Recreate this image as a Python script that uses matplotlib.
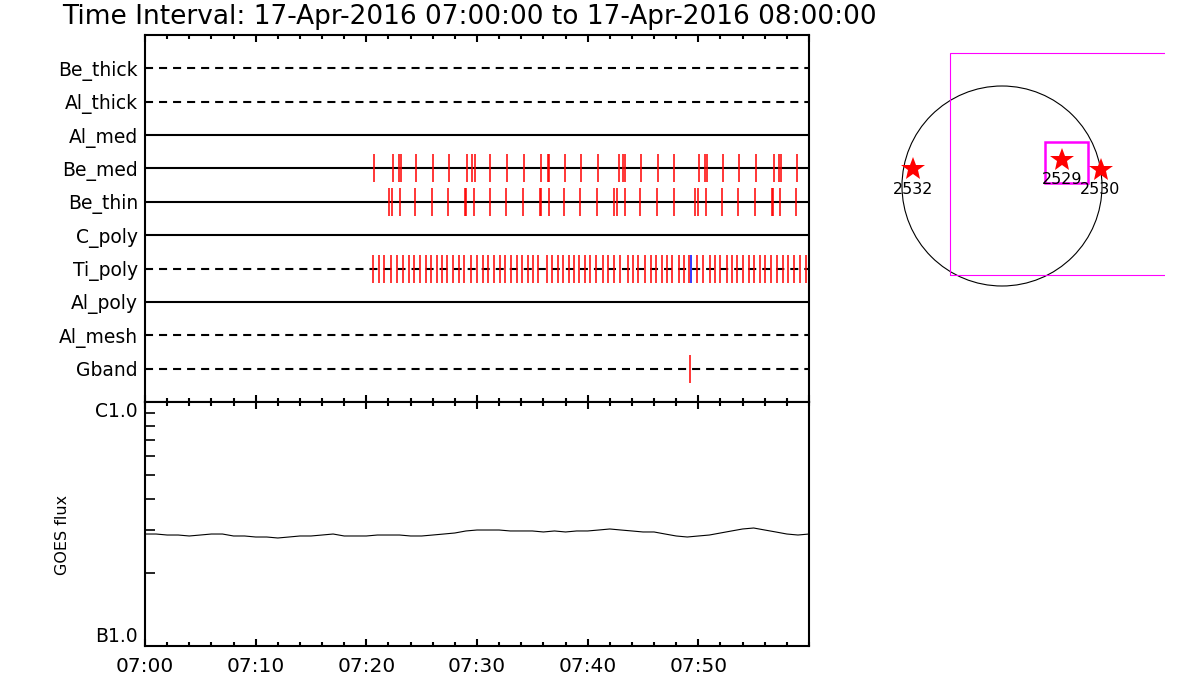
import numpy as np
import matplotlib
matplotlib.use("Agg")
import matplotlib.pyplot as plt
from matplotlib.patches import Circle, Rectangle

plt.rcParams['font.family'] = ['DejaVu Sans']
plt.rcParams['lines.scale_dashes'] = False

# detector rows, top to bottom
rows = ['Be_thick', 'Al_thick', 'Al_med', 'Be_med', 'Be_thin',
        'C_poly', 'Ti_poly', 'Al_poly', 'Al_mesh', 'Gband']
dashed = [True, True, False, False, False, False, True, False, True, True]

# event times, minutes after 07:00
be_med_t = [20.72, 22.44, 22.92, 23.16, 24.51, 26.05, 27.50, 29.12, 29.57, 29.85,
            31.20, 32.74, 34.27, 35.81, 36.39, 36.53, 37.98, 39.42, 40.96, 42.80,
            43.22, 43.40, 44.85, 46.38, 47.83, 50.09, 50.63, 50.81, 52.25, 53.70,
            55.24, 56.86, 57.31, 57.50, 58.94]
be_thin_t = [22.07, 22.35, 23.07, 24.42, 25.96, 27.41, 28.93, 29.05, 29.76, 31.20,
             32.65, 34.18, 35.70, 35.82, 36.48, 37.89, 39.33, 40.87, 42.41, 42.68,
             43.40, 44.75, 46.29, 47.83, 49.72, 50.00, 50.72, 52.16, 53.61, 55.15,
             56.66, 56.78, 57.41, 58.85]
ti_poly_t = [20.63, 21.17, 21.60, 22.26, 22.80, 23.34, 23.88, 24.33, 24.88, 25.42,
             25.82, 26.41, 26.86, 27.32, 27.86, 28.40, 28.85, 29.48, 30.03, 30.57,
             31.02, 31.56, 32.10, 32.56, 33.10, 33.64, 34.04, 34.63, 35.09, 35.54,
             36.30, 36.80, 37.29, 37.74, 38.34, 38.79, 39.24, 39.79, 40.24, 40.78,
             41.41, 41.86, 42.41, 42.95, 43.67, 44.12, 44.57, 45.21, 45.75, 46.20,
             46.74, 47.19, 47.65, 48.28, 48.73, 49.18, 49.91, 50.45, 51.08, 51.53,
             51.98, 52.62, 53.07, 53.52, 54.06, 54.60, 55.06, 55.60, 56.05, 56.59,
             57.14, 57.68, 58.13, 58.67, 59.21, 59.75]
ti_poly_blue_t = [49.33]
gband_t = [49.25]

# GOES flux (units of 1e-7 W/m^2), one reading per minute
goes_t = list(range(0, 61))
goes_flux = [2.877, 2.877, 2.850, 2.850, 2.824, 2.850, 2.877, 2.877, 2.824, 2.824,
             2.797, 2.797, 2.771, 2.797, 2.824, 2.824, 2.850, 2.877, 2.824, 2.824,
             2.824, 2.850, 2.850, 2.850, 2.824, 2.824, 2.850, 2.877, 2.905, 2.961,
             2.988, 2.988, 2.988, 2.961, 2.961, 2.961, 2.933, 2.961, 2.933, 2.961,
             2.961, 2.988, 3.017, 2.988, 2.961, 2.933, 2.933, 2.877, 2.824, 2.797,
             2.824, 2.850, 2.905, 2.961, 3.017, 3.045, 2.988, 2.933, 2.877, 2.850,
             2.877]

# active regions on the disk, arcsec
ar_num = ['2532', '2529', '2530']
ar_x = [-890, 600, 985]
ar_y = [170, 260, 160]

fig = plt.figure(figsize=(12, 7), dpi=100)
W, H = 1200.0, 700.0

def px_axes(x0, y0, x1, y1):
    return fig.add_axes([x0 / W, 1 - y1 / H, (x1 - x0) / W, (y1 - y0) / H])

# ---- detector panel
ax = px_axes(145, 35, 809, 402)
for i, (name, dsh) in enumerate(zip(rows, dashed)):
    yy = i + 1
    ln, = ax.plot([0, 60], [yy, yy], color='black', lw=1.5)
    if dsh:
        ln.set_dashes((5.8, 4.3))
marks = {'Be_med': be_med_t, 'Be_thin': be_thin_t, 'Ti_poly': ti_poly_t,
         'Gband': gband_t}
for name, tt in marks.items():
    yy = rows.index(name) + 1
    ax.vlines(tt, yy - 0.42, yy + 0.42, color='red', lw=1.1)
yy = rows.index('Ti_poly') + 1
ax.vlines(ti_poly_blue_t, yy - 0.42, yy + 0.42, color='blue', lw=1.1)

ax.set_xlim(0, 60)
ax.set_ylim(11, 0)
ax.set_yticks(range(1, 11))
ax.set_yticklabels(rows, fontsize=13.5)
ax.tick_params(axis='y', length=0, pad=5)
ax.set_xticks(range(0, 61, 10))
ax.set_xticks(range(0, 61, 2), minor=True)
ax.tick_params(axis='x', which='both', direction='in', top=True, bottom=True,
               labelbottom=False, width=1.5)
ax.tick_params(axis='x', which='major', length=5)
ax.tick_params(axis='x', which='minor', length=3)
for s in ax.spines.values():
    s.set_linewidth(1.5)

# ---- GOES panel
ax2 = px_axes(145, 402, 809, 646)
ax2.plot(goes_t, np.array(goes_flux) * 1e-7, color='black', lw=0.8)
ax2.set_yscale('log')
ax2.set_ylim(1e-7, 1e-6)
ax2.set_xlim(0, 60)
ax2.set_yticks([1e-7, 1e-6])
ax2.set_yticklabels(['B1.0', 'C1.0'], fontsize=13.5)
ax2.set_yticks([k * 1e-7 for k in range(2, 10)], minor=True)
ax2.yaxis.set_minor_formatter(plt.NullFormatter())
ax2.tick_params(axis='y', which='major', length=0, pad=5)
ax2.tick_params(axis='y', which='minor', direction='in', length=7, width=1.2,
                left=True, right=False)
lbls = ax2.get_yticklabels()
lbls[0].set_va('bottom')
lbls[1].set_va('top')
ax2.set_xticks(range(0, 51, 10))
ax2.set_xticklabels(['07:%02d' % m for m in range(0, 51, 10)], fontsize=14.5)
ax2.set_xticks(range(0, 61, 2), minor=True)
ax2.tick_params(axis='x', which='both', direction='in', top=True, bottom=True,
                width=1.5, pad=8)
ax2.tick_params(axis='x', which='major', length=5)
ax2.tick_params(axis='x', which='minor', length=3)
ax2.set_ylabel('GOES flux', fontsize=11.5)
ax2.yaxis.set_label_coords((70 - 145) / 664.0, (646 - 535) / 244.0)
for s in ax2.spines.values():
    s.set_linewidth(1.5)

# ---- solar disk panel (1 px ~ 10 arcsec, centre at 1002,186)
cx, cy = 1002.0, 186.0
ax3 = px_axes(850, 40, 1165, 300)
ax3.set_xlim((850 - cx) * 10, (1165 - cx) * 10)
ax3.set_ylim((cy - 300) * 10, (cy - 40) * 10)
ax3.set_axis_off()
ax3.add_patch(Circle((0, 0), 1000, fill=False, color='black', lw=0.8))
ax3.add_patch(Rectangle((-520, -890), 3000, 2220, fill=False,
                        edgecolor='#ff00ff', lw=0.8))
ax3.add_patch(Rectangle((430, 26), 427, 415, fill=False,
                        edgecolor='#ff00ff', lw=1.8))
ax3.plot(ar_x, ar_y, linestyle='none', marker='*', color='red',
         markersize=18, markeredgewidth=0)
for n, x, y in zip(ar_num, ar_x, ar_y):
    ax3.text(x, y - 125, n, ha='center', va='top', fontsize=11.5)

fig.text(62 / W, 1 - 24 / H,
         'Time Interval: 17-Apr-2016 07:00:00 to 17-Apr-2016 08:00:00',
         fontsize=19, va='baseline', ha='left')

fig.savefig('out.png', dpi=100)
